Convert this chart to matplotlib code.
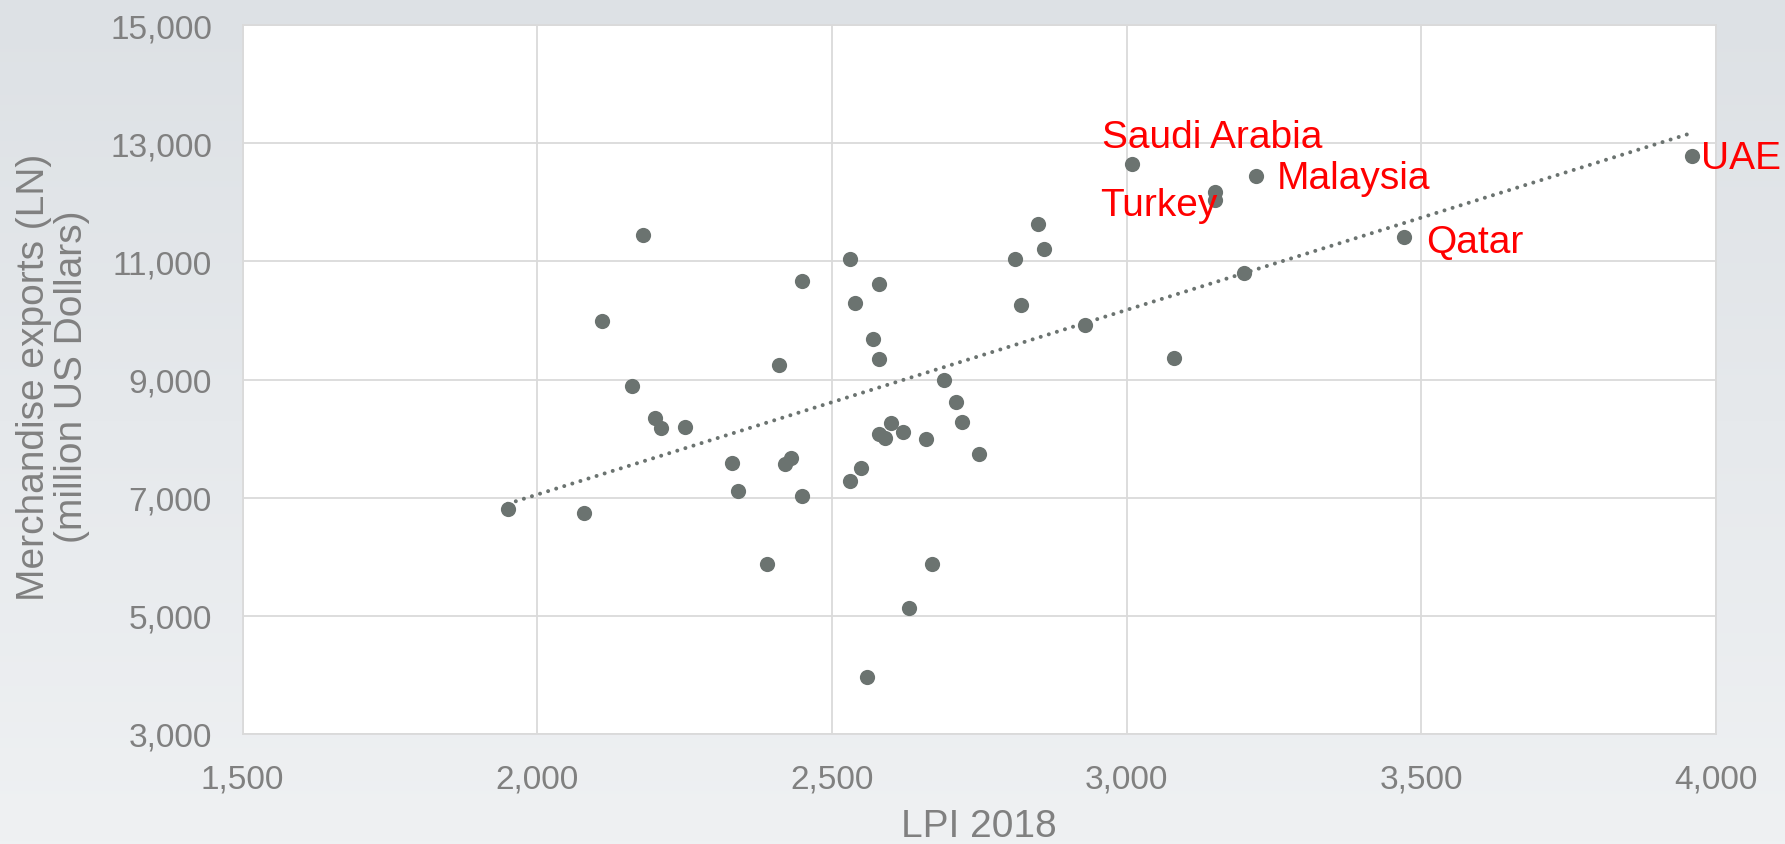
import numpy as np
import matplotlib
matplotlib.use("Agg")
import matplotlib.pyplot as plt

# ---- data ----
lpi = [1950, 2080, 2110, 2160, 2180, 2200, 2210, 2250, 2330, 2340,
       2390, 2410, 2420, 2430, 2450, 2450, 2530, 2530, 2540, 2550,
       2560, 2570, 2580, 2580, 2580, 2590, 2600, 2620, 2630, 2660,
       2670, 2690, 2710, 2720, 2750, 2810, 2820, 2850, 2860, 2930,
       3010, 3080, 3150, 3150, 3200, 3220, 3470, 3960]
exports = [6800, 6740, 9990, 8890, 11440, 8350, 8180, 8190, 7590, 7115,
           5870, 9240, 7575, 7670, 10660, 7030, 11040, 7285, 10300, 7500,
           3970, 9680, 10620, 9350, 8070, 8010, 8270, 8105, 5140, 7990,
           5880, 8985, 8625, 8275, 7745, 11045, 10255, 11625, 11215, 9930,
           12640, 9370, 12180, 12040, 10805, 12450, 11405, 12790]

labels = ["Saudi Arabia", "Turkey", "Malaysia", "Qatar", "UAE"]
label_x = [3010, 3150, 3220, 3470, 3960]
label_y = [12640, 12110, 12450, 11405, 12790]

x_ticks = [1500, 2000, 2500, 3000, 3500, 4000]
y_ticks = [3000, 5000, 7000, 9000, 11000, 13000, 15000]

x_title = "LPI 2018"
y_title = "Merchandise exports (LN)\n(million US Dollars)"

# ---- style ----
FONT = ["Liberation Sans", "DejaVu Sans"]
plt.rcParams["font.family"] = FONT
PT_COLOR = "#6b7370"
TXT_COLOR = "#808080"
GRID_COLOR = "#dadada"

fig = plt.figure(figsize=(17.85, 8.45), dpi=100)

# background gradient
bg = fig.add_axes([0, 0, 1, 1], zorder=-10)
top = np.array([0xdd, 0xe1, 0xe5]) / 255.0
bot = np.array([0xef, 0xf1, 0xf3]) / 255.0
t = np.linspace(0, 1, 256)[:, None]
grad = top[None, :] * (1 - t) + bot[None, :] * t
grad = np.repeat(grad[:, None, :], 4, axis=1)
bg.imshow(grad, aspect="auto", extent=[0, 1, 0, 1], origin="upper")
bg.axis("off")

ax = fig.add_axes([242.5 / 1785, 1 - 735 / 845, (1716 - 242.5) / 1785, (735 - 26) / 845])
ax.set_facecolor("white")

ax.scatter(lpi, exports, s=120, color=PT_COLOR, zorder=3, linewidths=0)

# linear trendline
coef = np.polyfit(lpi, exports, 1)
xs = np.array([min(lpi), max(lpi)])
ax.plot(xs, np.polyval(coef, xs), color=PT_COLOR, lw=2.9,
        linestyle=(0, (0.001, 2.1)), dash_capstyle="round", zorder=2)

offsets = {
    "Saudi Arabia": (-22, 20, "left"),
    "Turkey": (2, -7, "right"),
    "Malaysia": (15, -2, "left"),
    "Qatar": (16, -3, "left"),
    "UAE": (6, -2, "left"),
}
for name, lx, ly in zip(labels, label_x, label_y):
    dx, dy, ha = offsets[name]
    ax.annotate(name, (lx, ly), xytext=(dx, dy), textcoords="offset points",
                ha=ha, va="center", color="#ff0000", fontsize=28,
                annotation_clip=False, zorder=4)

ax.set_xlim(1500, 4000)
ax.set_ylim(3000, 15000)
ax.set_xticks(x_ticks)
ax.set_yticks(y_ticks)
ax.set_xticklabels([f"{v:,}" for v in x_ticks])
ax.set_yticklabels([f"{v:,}" for v in y_ticks])
ax.tick_params(axis="both", length=0, labelsize=24, labelcolor=TXT_COLOR)
ax.tick_params(axis="x", pad=21)
ax.tick_params(axis="y", pad=22)
ax.grid(True, color=GRID_COLOR, lw=1.3, zorder=0)
ax.set_axisbelow(True)
for sp in ax.spines.values():
    sp.set_color(GRID_COLOR)
    sp.set_linewidth(1.3)

fig.text(0.5 * (242.5 + 1716) / 1785, 1 - 827 / 845, x_title, ha="center", va="center",
         fontsize=28, color=TXT_COLOR)
fig.text(53 / 1785, 1 - 377 / 845, y_title, rotation=90, ha="center", va="center",
         multialignment="center", fontsize=28, color=TXT_COLOR, linespacing=1.05)

fig.savefig("out.png", dpi=100)
